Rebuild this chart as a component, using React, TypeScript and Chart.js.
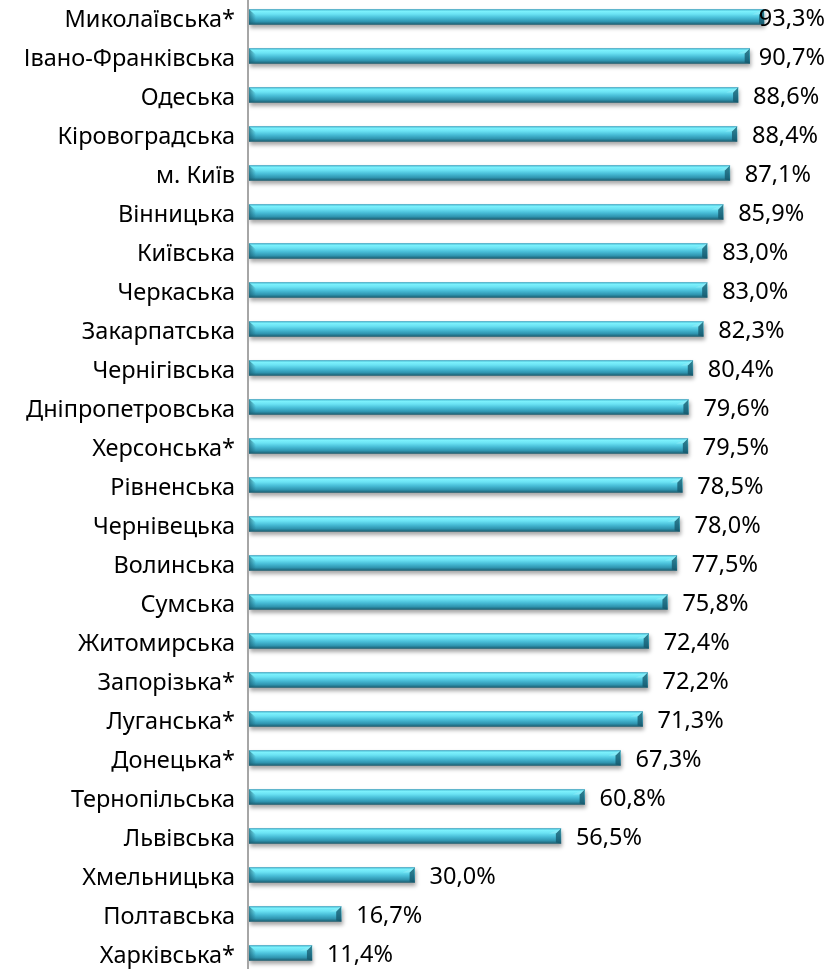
import React, { useEffect, useRef } from "react";
import { Chart, registerables } from "chart.js";

Chart.register(...registerables);

const categories = [
  "Миколаївська*",
  "Івано-Франківська",
  "Одеська",
  "Кіровоградська",
  "м. Київ",
  "Вінницька",
  "Київська",
  "Черкаська",
  "Закарпатська",
  "Чернігівська",
  "Дніпропетровська",
  "Херсонська*",
  "Рівненська",
  "Чернівецька",
  "Волинська",
  "Сумська",
  "Житомирська",
  "Запорізька*",
  "Луганська*",
  "Донецька*",
  "Тернопільська",
  "Львівська",
  "Хмельницька",
  "Полтавська",
  "Харківська*",
];

const values = [
  93.3, 90.7, 88.6, 88.4, 87.1, 85.9, 83.0, 83.0, 82.3, 80.4, 79.6, 79.5, 78.5,
  78.0, 77.5, 75.8, 72.4, 72.2, 71.3, 67.3, 60.8, 56.5, 30.0, 16.7, 11.4,
];

const FONT = "'Noto Sans', sans-serif";
const FS = 23.5;
const W = 831;
const H = 969;
const BAR = 15;

const gradientPlugin = {
  id: "barGradient",
  beforeDatasetsDraw(chart: any) {
    const ctx = chart.ctx;
    chart.getDatasetMeta(0).data.forEach((el: any) => {
      const top = el.y - el.height / 2;
      const bot = el.y + el.height / 2;
      const g = ctx.createLinearGradient(0, top, 0, bot);
      g.addColorStop(0, "#2fa2c0");
      g.addColorStop(0.1, "#7ef2fd");
      g.addColorStop(0.3, "#6be3f4");
      g.addColorStop(0.55, "#48bdd7");
      g.addColorStop(0.8, "#3096b1");
      g.addColorStop(1, "#1c5f72");
      el.options = { ...el.options, backgroundColor: g };
    });
  },
};

const shadowPlugin = {
  id: "barShadow",
  beforeDatasetDraw(chart: any) {
    const ctx = chart.ctx;
    ctx.save();
    ctx.shadowColor = "rgba(0,0,0,0.35)";
    ctx.shadowBlur = 4;
    ctx.shadowOffsetX = 1;
    ctx.shadowOffsetY = 3;
  },
  afterDatasetDraw(chart: any) {
    chart.ctx.restore();
  },
};

const bevelPlugin = {
  id: "bevel",
  afterDatasetsDraw(chart: any) {
    const ctx = chart.ctx;
    ctx.save();
    chart.getDatasetMeta(0).data.forEach((el: any) => {
      const top = el.y - el.height / 2;
      const bot = el.y + el.height / 2;
      const l = el.base;
      const r = el.x;
      const gl = ctx.createLinearGradient(l, 0, l + 7, 0);
      gl.addColorStop(0, "rgba(25,95,115,0.7)");
      gl.addColorStop(1, "rgba(25,95,115,0)");
      ctx.fillStyle = gl;
      ctx.beginPath();
      ctx.moveTo(l, top);
      ctx.lineTo(l + 7, top + 6);
      ctx.lineTo(l + 7, bot - 1);
      ctx.lineTo(l, bot);
      ctx.closePath();
      ctx.fill();
      ctx.fillStyle = "rgba(20,85,105,0.75)";
      ctx.beginPath();
      ctx.moveTo(r, top);
      ctx.lineTo(r, bot);
      ctx.lineTo(r - 5, bot - 1);
      ctx.lineTo(r - 5, top + 5);
      ctx.closePath();
      ctx.fill();
      ctx.fillStyle = "rgba(150,235,245,0.55)";
      ctx.beginPath();
      ctx.moveTo(r - 5, top + 5);
      ctx.lineTo(r, top);
      ctx.lineTo(r - 12, top + 5);
      ctx.closePath();
      ctx.fill();
    });
    ctx.restore();
  },
};

const axisLinePlugin = {
  id: "axisLine",
  afterDraw(chart: any) {
    const ctx = chart.ctx;
    const x = chart.chartArea.left;
    ctx.save();
    ctx.strokeStyle = "#a6a6a6";
    ctx.lineWidth = 2;
    ctx.beginPath();
    ctx.moveTo(x - 1, 0);
    ctx.lineTo(x - 1, chart.height);
    ctx.stroke();
    ctx.restore();
  },
};

const labelPlugin = {
  id: "valueLabels",
  afterDatasetsDraw(chart: any) {
    const ctx = chart.ctx;
    const meta = chart.getDatasetMeta(0);
    ctx.save();
    ctx.font = `${FS}px ${FONT}`;
    ctx.fillStyle = "#000";
    ctx.textBaseline = "middle";
    ctx.textAlign = "left";
    meta.data.forEach((el: any, i: number) => {
      const txt = values[i].toFixed(1).replace(".", ",") + "%";
      const tw = ctx.measureText(txt).width;
      let x = el.x + 15;
      if (x + tw > chart.width - 6) x = chart.width - 6 - tw;
      ctx.fillText(txt, x, el.y + 2);
    });
    ctx.restore();
  },
};

export default function App() {
  const ref = useRef<HTMLCanvasElement>(null);
  useEffect(() => {
    if (!ref.current) return;
    const chart = new Chart(ref.current, {
      type: "bar",
      data: {
        labels: categories,
        datasets: [
          {
            data: values,
            barThickness: BAR,
            borderWidth: 0,
            backgroundColor: "#4cc6dc",
            clip: false as any,
          },
        ],
      },
      options: {
        indexAxis: "y",
        animation: false,
        responsive: false,
        layout: { padding: { top: 17, bottom: 16, right: 30, left: 0 } },
        plugins: { legend: { display: false }, tooltip: { enabled: false } },
        scales: {
          x: { display: false, min: 0, max: 100 },
          y: {
            offset: false,
            grid: { display: false, drawTicks: false },
            border: { display: false },
            ticks: {
              color: "#000",
              font: { family: FONT, size: FS },
              padding: 14,
              labelOffset: 3,
              autoSkip: false,
            },
            afterFit: (s: any) => {
              s.width = 249;
              s.paddingTop = 0;
              s.paddingBottom = 0;
            },
          },
        },
      },
      plugins: [gradientPlugin, shadowPlugin, bevelPlugin, labelPlugin, axisLinePlugin],
    });
    return () => chart.destroy();
  }, []);
  return (
    <div style={{ position: "absolute", left: 0, top: 0, width: W, height: H }}>
      <canvas ref={ref} width={W} height={H} style={{ width: W, height: H }} />
    </div>
  );
}
